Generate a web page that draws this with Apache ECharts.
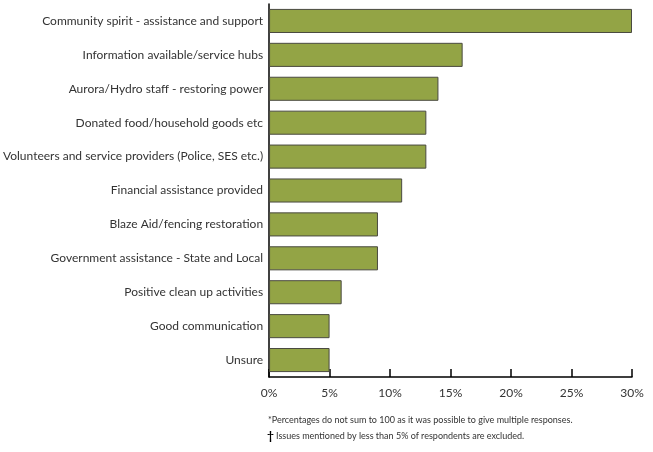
<!DOCTYPE html>
<html><head><meta charset="utf-8">
<script src="https://cdn.jsdelivr.net/npm/echarts@6/dist/echarts.min.js"></script>
<style>html,body{margin:0;padding:0;background:#fff}#c{width:653px;height:452px}</style>
</head><body><div id="c"></div>
<script>
var categories = ["Community spirit - assistance and support","Information available/service hubs","Aurora/Hydro staff - restoring power","Donated food/household goods etc","Volunteers and service providers (Police, SES etc.)","Financial assistance provided","Blaze Aid/fencing restoration","Government assistance - State and Local","Positive clean up activities","Good communication","Unsure"];
var values = [30,16,14,13,13,11,9,9,6,5,5];
var xTicks = [0,5,10,15,20,25,30];
var notes = ["*Percentages do not sum to 100 as it was possible to give multiple responses.","Issues mentioned by less than 5% of respondents are excluded."];
var chart = echarts.init(document.getElementById('c'));
var font = 'Lato, "Open Sans", sans-serif';
chart.setOption({
  animation:false,
  grid:{left:268,right:21,top:4,bottom:75},
  xAxis:{type:'value',min:0,max:30,interval:5,
    axisLine:{show:true,lineStyle:{color:'#000',width:1.5}},
    axisTick:{show:true,inside:true,length:8,lineStyle:{color:'#000',width:1.5}},
    splitLine:{show:false},
    axisLabel:{formatter:function(v){return v+'%';},color:'#333',fontFamily:font,fontSize:12,margin:10}},
  yAxis:{type:'category',inverse:true,data:categories,
    axisLine:{show:true,lineStyle:{color:'#000',width:1.5}},
    axisTick:{show:false},
    axisLabel:{color:'#333',fontFamily:font,fontSize:12,margin:6}},
  series:[{type:'bar',data:values,barCategoryGap:'29%',
    itemStyle:{color:'#93a445',borderColor:'#4a4a40',borderWidth:1}}],
  graphic:[
    {type:'text',left:268,top:416,style:{text:notes[0],fill:'#333',font:'9px '+font}},
    {type:'text',left:267,top:430,style:{text:'\u2020',fill:'#000',font:'bold 12px '+font}},
    {type:'text',left:276,top:432,style:{text:notes[1],fill:'#333',font:'9px '+font}}
  ]
});
</script></body></html>
